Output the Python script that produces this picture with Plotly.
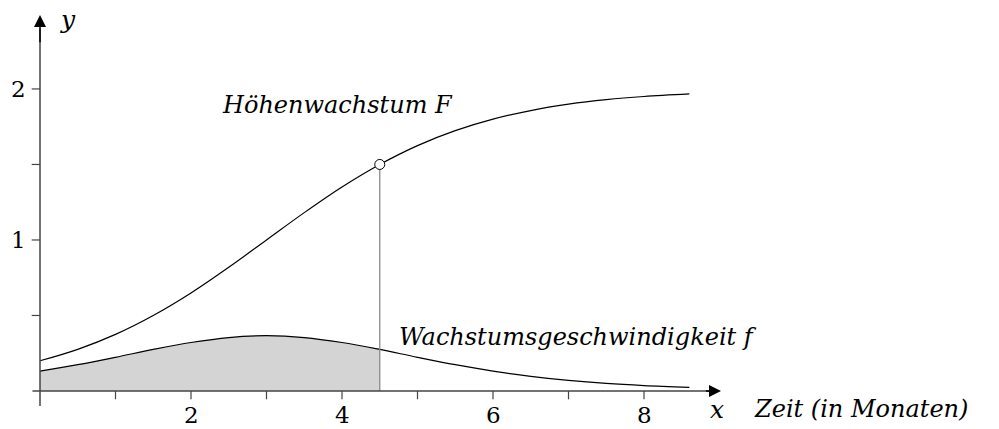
import plotly.graph_objects as go

# Data
x_vals = [0, 0.5, 1, 1.5, 2, 2.5, 3, 3.5, 4, 4.5, 5, 5.5, 6, 6.5, 7, 7.5, 8, 8.6]
F_vals = [0.2, 0.276, 0.375, 0.5, 0.649, 0.819, 1.0, 1.181, 1.351, 1.5,
          1.625, 1.724, 1.8, 1.857, 1.899, 1.929, 1.95, 1.967]
f_vals = [0.132, 0.174, 0.223, 0.275, 0.321, 0.354, 0.366, 0.354, 0.321, 0.275,
          0.223, 0.174, 0.132, 0.097, 0.070, 0.050, 0.036, 0.024]
x_mark = 4.5
F_mark = 1.5
x_ticks = [1, 2, 3, 4, 5, 6, 7, 8]
x_labels = [2, 4, 6, 8]
y_ticks = [0.5, 1, 1.5, 2]
y_labels = [1, 2]

FONT = "DejaVu Serif"
AX = "#444444"

n_fill = x_vals.index(x_mark) + 1

fig = go.Figure()
fig.add_trace(go.Scatter(x=x_vals[:n_fill], y=f_vals[:n_fill], mode="lines",
                         line=dict(width=0, shape="spline"), fill="tozeroy",
                         fillcolor="#d4d4d4", hoverinfo="skip"))
fig.add_trace(go.Scatter(x=x_vals, y=F_vals, mode="lines",
                         line=dict(color="black", width=1.2, shape="spline")))
fig.add_trace(go.Scatter(x=x_vals, y=f_vals, mode="lines",
                         line=dict(color="black", width=1.2, shape="spline")))
fig.add_trace(go.Scatter(x=[x_mark, x_mark], y=[0, F_mark], mode="lines",
                         line=dict(color="#8a8a8a", width=1.3)))
fig.add_trace(go.Scatter(x=[x_mark], y=[F_mark], mode="markers",
                         marker=dict(size=10, color="white",
                                     line=dict(color="black", width=1))))

shapes = []
shapes.append(dict(type="line", x0=-0.1, x1=8.9, y0=0, y1=0, line=dict(color=AX, width=1.5)))
shapes.append(dict(type="line", x0=0, x1=0, y0=-0.1, y1=2.4, line=dict(color=AX, width=1.5)))
for t in x_ticks:
    shapes.append(dict(type="line", x0=t, x1=t, y0=0, y1=-0.055, line=dict(color=AX, width=1.2)))
for t in y_ticks:
    shapes.append(dict(type="line", x0=-0.11, x1=0, y0=t, y1=t, line=dict(color=AX, width=1.2)))

ann = []
ann.append(dict(x=9.02, y=0, ax=8.8, ay=0, axref="x", ayref="y", xref="x", yref="y",
                showarrow=True, arrowhead=2, arrowsize=1.6, arrowwidth=1.5,
                arrowcolor="black", text=""))
ann.append(dict(x=0, y=2.49, ax=0, ay=2.3, axref="x", ayref="y", xref="x", yref="y",
                showarrow=True, arrowhead=2, arrowsize=1.6, arrowwidth=1.5,
                arrowcolor="black", text=""))
for t in x_labels:
    ann.append(dict(x=t, y=-0.162, text=str(t), showarrow=False,
                    font=dict(family=FONT, size=23, color="black")))
for t in y_labels:
    ann.append(dict(x=-0.29, y=t, text=str(t), showarrow=False,
                    font=dict(family=FONT, size=23, color="black")))
ann.append(dict(x=0.37, y=2.46, text="<i>y</i>", showarrow=False,
                font=dict(family=FONT, size=25, color="black")))
ann.append(dict(x=8.97, y=-0.12, text="<i>x</i>", showarrow=False,
                font=dict(family=FONT, size=25, color="black")))
ann.append(dict(x=9.43, y=-0.12, text="<i>Zeit (in Monaten)</i>", showarrow=False,
                xanchor="left", font=dict(family=FONT, size=24, color="black")))
ann.append(dict(x=2.38, y=1.894, text="<i>Höhenwachstum F</i>", showarrow=False,
                xanchor="left", font=dict(family=FONT, size=24, color="black")))
ann.append(dict(x=4.73, y=0.358, text="<i>Wachstumsgeschwindigkeit f</i>", showarrow=False,
                xanchor="left", font=dict(family=FONT, size=24, color="black")))

fig.update_layout(
    width=999, height=429,
    margin=dict(l=0, r=0, t=0, b=0),
    plot_bgcolor="white", paper_bgcolor="white",
    showlegend=False,
    shapes=shapes, annotations=ann,
    xaxis=dict(range=[-0.5298, 12.702], visible=False, fixedrange=True),
    yaxis=dict(range=[-0.2517, 2.589], visible=False, fixedrange=True),
)

fig.write_html("out.html", config={"displayModeBar": False},
               post_script="document.body.style.margin='0';document.body.style.overflow='hidden';")
